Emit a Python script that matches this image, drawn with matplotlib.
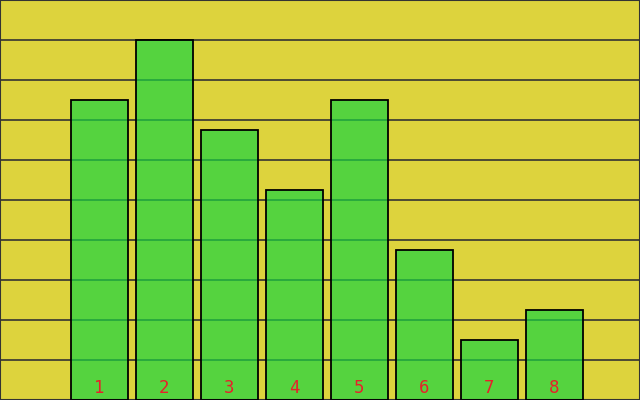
import numpy as np
import matplotlib.pyplot as plt

labels = ["1", "2", "3", "4", "5", "6", "7", "8"]
values = [10, 12, 9, 7, 10, 5, 2, 3]

ymax = 40 / 3
x = np.arange(1, len(values) + 1)

fig = plt.figure(figsize=(6.4, 4.0), dpi=100)
fig.patch.set_facecolor("#DDD33D")
ax = fig.add_axes([0, 0, 1, 1])
ax.set_facecolor("#DDD33D")

# grid lines sit under the translucent bars
for gy in np.linspace(0, ymax, 11):
    ax.axhline(gy, color="#333333", lw=1.2, zorder=1)

ax.bar(x, values, width=57 / 65, color="#1BD441", alpha=0.7,
       edgecolor="none", zorder=2)
ax.bar(x, values, width=57 / 65, facecolor="none",
       edgecolor="black", linewidth=1.3, zorder=3)

for xi, lab in zip(x, labels):
    ax.text(xi, 0.4, lab, color="#E8202A", ha="center", va="center",
            fontsize=12.5, family="DejaVu Sans Mono", zorder=4)

ax.set_xlim(1 - 99.5 / 65, 1 - 99.5 / 65 + 640 / 65)
ax.set_ylim(0, ymax)
ax.set_xticks([])
ax.set_yticks([])
for s in ax.spines.values():
    s.set_color("#333333")
    s.set_linewidth(1.5)

fig.savefig("out.png", dpi=100, facecolor=fig.get_facecolor())
